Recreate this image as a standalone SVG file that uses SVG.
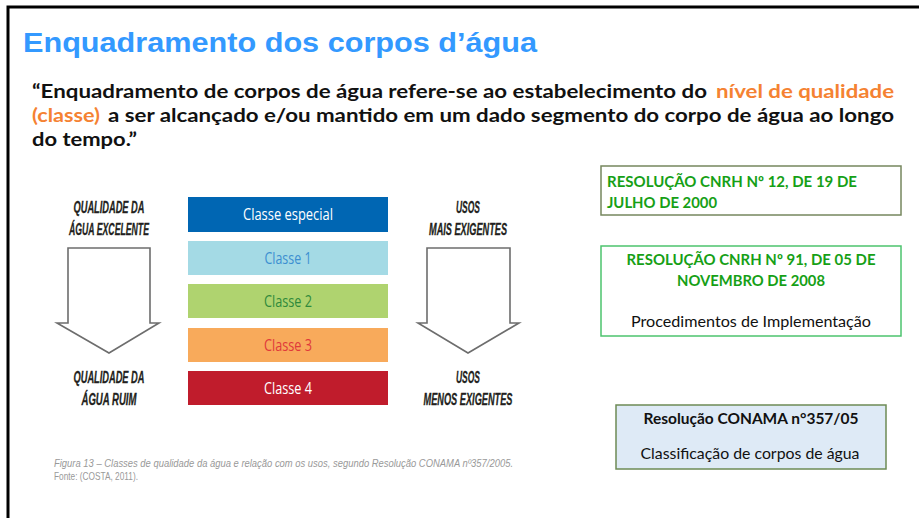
<svg xmlns="http://www.w3.org/2000/svg" width="919" height="518" viewBox="0 0 919 518">
<style>
.title{font-family:"Liberation Sans",Arial,sans-serif;font-weight:bold;font-size:28.5px;fill:#3399FF}
.q{font-family:Lato,"Open Sans",sans-serif;font-weight:bold;font-size:19px;fill:#111}
.qo{fill:#F58232}
.lbl{font-family:"Liberation Sans",Arial,sans-serif;font-weight:bold;font-style:italic;font-size:16px;fill:#231F20;text-anchor:middle;stroke:#231F20;stroke-width:0.3}
.bar{font-family:"Open Sans","Liberation Sans",sans-serif;font-size:17px;text-anchor:middle}
.arrow{fill:#fff;stroke:#6d6d6d;stroke-width:1.6;stroke-linejoin:miter}
.cap{font-family:"Liberation Sans",Arial,sans-serif;font-size:11.5px;fill:#999}
.g{font-family:Lato,"Open Sans",sans-serif;font-weight:bold;font-size:15px;fill:#16A016}
.b{font-family:Lato,"Open Sans",sans-serif;font-size:15px;fill:#111}
</style>
<path d="M8,518 V7 H919" fill="none" stroke="#000" stroke-width="3"/>
<text class="title" x="23" y="52" textLength="514" lengthAdjust="spacingAndGlyphs">Enquadramento dos corpos d’água</text>
<g id="quote">
<text class="q" x="32" y="98" textLength="675" lengthAdjust="spacingAndGlyphs">“Enquadramento de corpos de água refere-se ao estabelecimento do</text>
<text class="q qo" x="716" y="98" textLength="178" lengthAdjust="spacingAndGlyphs">nível de qualidade</text>
<text class="q qo" x="32" y="122" textLength="68" lengthAdjust="spacingAndGlyphs">(classe)</text>
<text class="q" x="108" y="122" textLength="786" lengthAdjust="spacingAndGlyphs">a ser alcançado e/ou mantido em um dado segmento do corpo de água ao longo</text>
<text class="q" x="32" y="146" textLength="105" lengthAdjust="spacingAndGlyphs">do tempo.”</text>
</g>
<g id="figure">
<text class="lbl" x="109" y="213" textLength="71" lengthAdjust="spacingAndGlyphs">QUALIDADE DA</text>
<text class="lbl" x="109" y="235" textLength="80" lengthAdjust="spacingAndGlyphs">ÁGUA EXCELENTE</text>
<path class="arrow" d="M68,248 H150 V323 H159 L109,353 L57,323 H68 Z"/>
<text class="lbl" x="109" y="383" textLength="71" lengthAdjust="spacingAndGlyphs">QUALIDADE DA</text>
<text class="lbl" x="109" y="405" textLength="55" lengthAdjust="spacingAndGlyphs">ÁGUA RUIM</text>
<text class="lbl" x="468" y="213" textLength="24" lengthAdjust="spacingAndGlyphs">USOS</text>
<text class="lbl" x="468" y="235" textLength="78" lengthAdjust="spacingAndGlyphs">MAIS EXIGENTES</text>
<path class="arrow" d="M427,248 H510 V323 H519 L468,353 L418,323 H427 Z"/>
<text class="lbl" x="468" y="383" textLength="24" lengthAdjust="spacingAndGlyphs">USOS</text>
<text class="lbl" x="468" y="405" textLength="89" lengthAdjust="spacingAndGlyphs">MENOS EXIGENTES</text>
<g id="classe-especial"><rect x="188" y="197" width="200" height="35" fill="#0066B3"/><text class="bar" x="288" y="220" fill="#fff" textLength="90" lengthAdjust="spacingAndGlyphs">Classe especial</text></g>
<g id="classe-1"><rect x="188" y="241" width="200" height="34" fill="#A4DAE5"/><text class="bar" x="288" y="264" fill="#3C8FD1" textLength="47" lengthAdjust="spacingAndGlyphs">Classe 1</text></g>
<g id="classe-2"><rect x="188" y="284" width="200" height="34" fill="#AFD36F"/><text class="bar" x="288" y="307" fill="#2F8A3B" textLength="48" lengthAdjust="spacingAndGlyphs">Classe 2</text></g>
<g id="classe-3"><rect x="188" y="328" width="200" height="34" fill="#F8AA5B"/><text class="bar" x="288" y="351" fill="#E0393A" textLength="48" lengthAdjust="spacingAndGlyphs">Classe 3</text></g>
<g id="classe-4"><rect x="188" y="371" width="200" height="34" fill="#C01C2C"/><text class="bar" x="288" y="394" fill="#fff" textLength="48" lengthAdjust="spacingAndGlyphs">Classe 4</text></g>
<text class="cap" x="54" y="467" font-style="italic" textLength="459" lengthAdjust="spacingAndGlyphs">Figura 13 – Classes de qualidade da água e relação com os usos, segundo Resolução CONAMA nº357/2005.</text>
<text class="cap" x="54" y="480" textLength="84" lengthAdjust="spacingAndGlyphs">Fonte: (COSTA, 2011).</text>
</g>
<g id="res-cnrh-12">
<rect x="601" y="166" width="300" height="49" fill="#fff" stroke="#76875E" stroke-width="1.5"/>
<text class="g" x="607" y="187" textLength="250" lengthAdjust="spacingAndGlyphs">RESOLUÇÃO CNRH Nº 12, DE 19 DE</text>
<text class="g" x="607" y="208" textLength="110" lengthAdjust="spacingAndGlyphs">JULHO DE 2000</text>
</g>
<g id="res-cnrh-91">
<rect x="601" y="246" width="300" height="90" fill="#fff" stroke="#4CC36E" stroke-width="1.5"/>
<text class="g" x="751" y="265" text-anchor="middle" textLength="249" lengthAdjust="spacingAndGlyphs">RESOLUÇÃO CNRH Nº 91, DE 05 DE</text>
<text class="g" x="751" y="286" text-anchor="middle" textLength="148" lengthAdjust="spacingAndGlyphs">NOVEMBRO DE 2008</text>
<text class="b" x="751" y="327" text-anchor="middle" textLength="240" lengthAdjust="spacingAndGlyphs">Procedimentos de Implementação</text>
</g>
<g id="res-conama-357">
<rect x="616" y="405" width="270" height="64" fill="#DEEAF6" stroke="#6D8B55" stroke-width="1.5"/>
<text class="b" x="751" y="424" text-anchor="middle" font-weight="bold" textLength="215" lengthAdjust="spacingAndGlyphs">Resolução CONAMA n°357/05</text>
<text class="b" x="750" y="459" text-anchor="middle" textLength="219" lengthAdjust="spacingAndGlyphs">Classificação de corpos de água</text>
</g>
</svg>
